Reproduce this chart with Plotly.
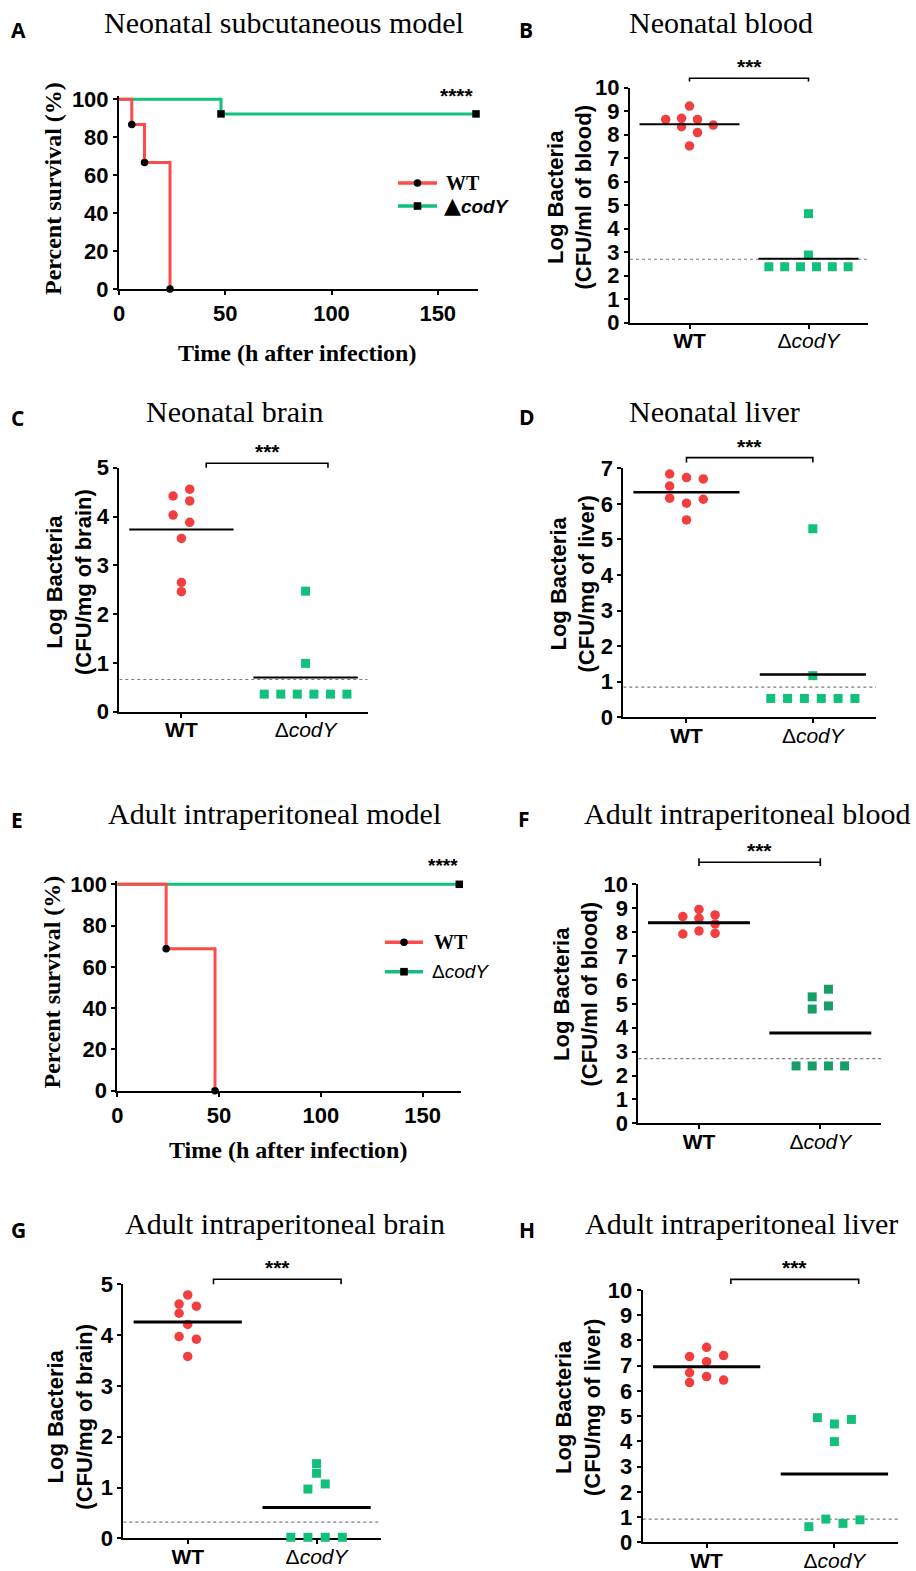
import numpy as np
import plotly.graph_objects as go

W, H = 916, 1571
SANS = "Liberation Sans, Arial, sans-serif"
SERIF = "Liberation Serif, Times New Roman, serif"
LBL = "Open Sans, sans-serif"

RED = "#F23E3E"
GREEN = "#12BF7B"
GREEN_DARK = "#179E66"
KM_RED = "#FF4A4A"
KM_GREEN = "#12BF7B"

CATS = ["<b>WT</b>", "Δ<i>codY</i>"]

# ---- survival curves (time in h, % surviving) ----
A_wt_time = [0, 6, 12, 24]
A_wt_surv = [100, 86.7, 66.7, 0]
A_cod_time = [0, 48, 168]
A_cod_surv = [100, 92.3, 92.3]

E_wt_time = [0, 24, 48]
E_wt_surv = [100, 68.8, 0]
E_cod_time = [0, 168]
E_cod_surv = [100, 100]

# ---- bacterial loads (log CFU) and horizontal spread within each column ----
B_wt = [9.22, 8.65, 8.70, 8.65, 8.34, 8.09, 8.41, 7.52]
B_wt_dx = [0, -0.2, -0.067, 0.067, -0.067, 0.067, 0.2, 0]
B_cod = [4.64, 2.88, 2.38, 2.38, 2.38, 2.38, 2.38, 2.38]
B_cod_dx = [0, 0, -0.333, -0.2, -0.067, 0.067, 0.2, 0.333]
B_lod = 2.70

C_wt = [4.42, 4.56, 4.32, 4.03, 3.88, 3.55, 2.65, 2.46]
C_wt_dx = [-0.067, 0.067, 0.067, -0.067, 0.067, 0, 0, 0]
C_cod = [2.47, 0.99, 0.36, 0.36, 0.36, 0.36, 0.36, 0.36]
C_cod_dx = [0, 0, -0.333, -0.2, -0.067, 0.067, 0.2, 0.333]
C_lod = 0.66

D_wt = [6.84, 6.74, 6.70, 6.50, 6.16, 6.13, 6.02, 5.55]
D_wt_dx = [-0.133, 0, 0.133, -0.133, -0.133, 0.133, 0, 0]
D_cod = [5.30, 1.17, 0.53, 0.53, 0.53, 0.53, 0.53, 0.53]
D_cod_dx = [0, 0, -0.333, -0.2, -0.067, 0.067, 0.2, 0.333]
D_lod = 0.85

F_wt = [8.95, 8.65, 8.72, 8.58, 8.34, 8.05, 7.92, 7.95]
F_wt_dx = [0, -0.133, 0.133, 0, 0.133, 0, -0.133, 0.133]
F_cod = [5.61, 5.29, 4.91, 4.78, 2.40, 2.40, 2.40, 2.40]
F_cod_dx = [0.067, -0.067, 0.067, -0.067, -0.2, -0.067, 0.067, 0.2]
F_lod = 2.71

G_wt = [4.79, 4.61, 4.57, 4.43, 4.21, 3.97, 3.92, 3.58]
G_wt_dx = [0, -0.067, 0.067, -0.067, 0, -0.067, 0.067, 0]
G_cod = [1.47, 1.28, 1.07, 0.97, 0.02, 0.02, 0.02, 0.02]
G_cod_dx = [0, 0, 0.067, -0.067, -0.2, -0.067, 0.067, 0.2]
G_lod = 0.32

H_wt = [7.73, 7.36, 7.40, 7.16, 6.72, 6.57, 6.43, 6.33]
H_wt_dx = [0, -0.133, 0.133, 0, -0.133, 0, 0.133, -0.133]
H_cod = [4.94, 4.87, 4.69, 3.99, 0.62, 0.92, 0.75, 0.89]
H_cod_dx = [-0.133, 0.133, 0, 0, -0.2, -0.067, 0.067, 0.2]
H_lod = 0.92


def px(x):
    return x / W


def py(y):
    return 1 - y / H


def dom(v, rng):
    return (v - rng[0]) / (rng[1] - rng[0])


def axis_style(size=22, weight="bold"):
    return dict(showgrid=False, zeroline=False, showline=True, linecolor="black",
                linewidth=2, ticks="outside", tickcolor="black", tickwidth=2,
                ticklen=4, fixedrange=True, automargin=False,
                tickfont=dict(family=SANS, size=size, color="black", weight=weight))


fig = go.Figure()
layout = dict(template="none", width=W, height=H, margin=dict(l=0, r=0, t=0, b=0, pad=0, autoexpand=False),
              paper_bgcolor="white", plot_bgcolor="white", showlegend=False)
shapes, annotations = [], []


def ref(i):
    return ("x", "y") if i == 1 else (f"x{i}", f"y{i}")


def axname(i):
    return ("xaxis", "yaxis") if i == 1 else (f"xaxis{i}", f"yaxis{i}")


# ---------------- survival panels ----------------
def survival_panel(i, xpx, ybot, ytop, wt_t, wt_s, cod_t, cod_s, xmax):
    xr, yr = ref(i)
    xa, ya = axname(i)
    yrange = [0, 101.5]
    top_px = ybot - (ybot - ytop) * yrange[1] / 100
    layout[xa] = dict(domain=[px(xpx[0]), px(xpx[1])], range=[0, xmax], anchor=yr,
                      tickvals=[0, 50, 100, 150], **axis_style(22))
    layout[ya] = dict(domain=[py(ybot), py(top_px)], range=yrange, anchor=xr,
                      tickvals=[0, 20, 40, 60, 80, 100], **axis_style(22))
    for t, s, col, sym in ((cod_t, cod_s, KM_GREEN, "square"), (wt_t, wt_s, KM_RED, "circle")):
        fig.add_trace(go.Scatter(x=t, y=s, mode="lines", xaxis=xr, yaxis=yr,
                                 line=dict(color=col, width=3, shape="hv")))
        fig.add_trace(go.Scatter(x=t[1:], y=s[1:], mode="markers", xaxis=xr, yaxis=yr,
                                 cliponaxis=False,
                                 marker=dict(symbol=sym, size=7.5, color="black")))


survival_panel(1, (119, 477.7), 289, 99.3, A_wt_time, A_wt_surv, A_cod_time, A_cod_surv, 168.8)
survival_panel(5, (117.3, 460.7), 1090.7, 884.3, E_wt_time, E_wt_surv, E_cod_time, E_cod_surv, 168.7)


def legend(x0, x1, y_wt, y_cod, xtext, cod_label):
    for yy, col, kind in ((y_wt, KM_RED, "circle"), (y_cod, KM_GREEN, "rect")):
        shapes.append(dict(type="line", xref="paper", yref="paper", x0=px(x0), x1=px(x1),
                           y0=py(yy), y1=py(yy), line=dict(color=col, width=3.5)))
        cx = (x0 + x1) / 2
        r = 3.8
        shapes.append(dict(type=kind, xref="paper", yref="paper", x0=px(cx - r), x1=px(cx + r),
                           y0=py(yy + r), y1=py(yy - r), fillcolor="black",
                           line=dict(color="black", width=0)))
    annotations.append(dict(xref="paper", yref="paper", x=px(xtext), y=py(y_wt),
                            xanchor="left", yanchor="middle", showarrow=False,
                            text="<b>WT</b>", font=dict(family=SERIF, size=20, color="black")))
    annotations.append(dict(xref="paper", yref="paper", x=px(xtext - 2), y=py(y_cod),
                            xanchor="left", yanchor="middle", showarrow=False,
                            text=cod_label, font=dict(family=SANS, size=19, color="black")))


legend(398, 437, 183, 206, 444,
       "<span style='font-family:DejaVu Sans;font-size:22px'>▲</span><b><i>codY</i></b>")
legend(385, 423, 942.3, 971.7, 432, "Δ<i>codY</i>")

for (x, y, s) in ((457, 96, 21), (442.7, 866, 19)):
    annotations.append(dict(xref="paper", yref="paper", x=px(x), y=py(y), xanchor="center",
                            yanchor="middle", showarrow=False, text="<b>****</b>",
                            font=dict(family=SANS, size=s, color="black")))

for (x, y) in ((297, 353), (288, 1150)):
    annotations.append(dict(xref="paper", yref="paper", x=px(x), y=py(y), xanchor="center",
                            yanchor="middle", showarrow=False, text="<b>Time (h after infection)</b>",
                            font=dict(family=SERIF, size=24, color="black")))
for (x, y) in ((53, 189), (52, 982.5)):
    annotations.append(dict(xref="paper", yref="paper", x=px(x), y=py(y), xanchor="center",
                            yanchor="middle", showarrow=False, textangle=-90,
                            text="<b>Percent survival (%)</b>",
                            font=dict(family=SERIF, size=24, color="black")))


# ---------------- scatter panels ----------------
def dot_panel(i, xpx, ybot, ytop, ymax, wt, wt_dx, cod, cod_dx, lod, green, mean_w,
              bracket, ytitle, ytitle_xy, below=False):
    xr, yr = ref(i)
    xa, ya = axname(i)
    xrange = [-0.5, 1.5]
    yrange = [0, ymax]
    layout[xa] = dict(domain=[px(xpx[0]), px(xpx[1])], range=xrange, anchor=yr,
                      tickvals=[0, 1], ticktext=CATS, ticklabelstandoff=-6,
                      **axis_style(21, "normal"))
    layout[ya] = dict(domain=[py(ybot), py(ytop)], range=yrange, anchor=xr,
                      tick0=0, dtick=1, **axis_style(22))
    if below:
        layout[xa]["layer"] = "below traces"
    # detection limit
    fig.add_trace(go.Scatter(x=xrange, y=[lod, lod], mode="lines", xaxis=xr, yaxis=yr,
                             line=dict(color="#7a7a7a", width=1.2, dash="dot")))
    for c, vals, dx, col, sym, size in ((0, wt, wt_dx, RED, "circle", 9.5),
                                        (1, cod, cod_dx, green, "square", 9)):
        fig.add_trace(go.Scatter(x=[c + d for d in dx], y=vals, mode="markers",
                                 xaxis=xr, yaxis=yr, cliponaxis=False,
                                 marker=dict(symbol=sym, size=size, color=col,
                                             line=dict(width=0))))
        m = float(np.mean(vals))
        fig.add_trace(go.Scatter(x=[c - 0.42, c + 0.42], y=[m, m], mode="lines",
                                 xaxis=xr, yaxis=yr, line=dict(color="black", width=mean_w)))
    # significance bracket
    kind, bx0, bx1, ybar, ytick, ycap = bracket
    X0, X1 = dom(bx0, xrange), dom(bx1, xrange)
    Yb, Yt = dom(ybar, yrange), dom(ytick, yrange)
    if kind == "cap":
        Yc = dom(ycap, yrange)
        path = (f"M{X0},{Yt} L{X0},{Yc} M{X0},{Yb} L{X1},{Yb} "
                f"M{X1},{Yt} L{X1},{Yc}")
    else:
        path = f"M{X0},{Yt} L{X0},{Yb} L{X1},{Yb} L{X1},{Yt}"
    shapes.append(dict(type="path", xref=f"{xr} domain", yref=f"{yr} domain", path=path,
                       line=dict(color="black", width=1.6)))
    annotations.append(dict(xref=f"{xr} domain", yref=f"{yr} domain", x=(X0 + X1) / 2, y=Yb,
                            xanchor="center", yanchor="bottom", yshift=-2, showarrow=False,
                            text="<b>***</b>", font=dict(family=SANS, size=21, color="black")))
    annotations.append(dict(xref="paper", yref="paper", x=px(ytitle_xy[0]), y=py(ytitle_xy[1]),
                            xanchor="center", yanchor="middle", showarrow=False, textangle=-90,
                            text=f"<b>Log Bacteria<br>{ytitle}</b>",
                            font=dict(family=SANS, size=22, color="black")))


dot_panel(2, (630, 868), 322.7, 87.7, 10, B_wt, B_wt_dx, B_cod, B_cod_dx, B_lod, GREEN, 2,
          ("down", 0, 1, 10.4, 10.26, None), "(CFU/ml of blood)", (570, 197.5))
dot_panel(3, (119.3, 367.7), 711.7, 467.7, 5, C_wt, C_wt_dx, C_cod, C_cod_dx, C_lod, GREEN, 2,
          ("down", 0.2, 1.18, 5.09, 5.0, None), "(CFU/mg of brain)", (69, 582))
dot_panel(4, (623.3, 876), 717.3, 468.3, 7, D_wt, D_wt_dx, D_cod, D_cod_dx, D_lod, GREEN, 2.5,
          ("down", 0, 1, 7.30, 7.16, None), "(CFU/mg of liver)", (572.5, 584))
dot_panel(6, (638.3, 881), 1123.3, 884.3, 10, F_wt, F_wt_dx, F_cod, F_cod_dx, F_lod, GREEN_DARK, 3,
          ("cap", 0, 1, 10.92, 11.09, 10.77), "(CFU/ml of blood)", (575.5, 994))
dot_panel(7, (123.3, 381), 1538.3, 1284.3, 5, G_wt, G_wt_dx, G_cod, G_cod_dx, G_lod, GREEN, 3,
          ("down", 0.2, 1.19, 5.10, 5.0, None), "(CFU/mg of brain)", (70, 1416.7), below=True)
dot_panel(8, (642.7, 898.3), 1542.3, 1290, 10, H_wt, H_wt_dx, H_cod, H_cod_dx, H_lod, GREEN, 3,
          ("down", 0.19, 1.19, 10.42, 10.24, None), "(CFU/mg of liver)", (578, 1408))

# ---------------- panel titles and letters ----------------
titles = [("Neonatal subcutaneous model", 284, 23), ("Neonatal blood", 721, 23),
          ("Neonatal brain", 234, 412), ("Neonatal liver", 714, 412),
          ("Adult intraperitoneal model", 274, 813), ("Adult intraperitoneal blood", 747.5, 813),
          ("Adult intraperitoneal brain", 285, 1223), ("Adult intraperitoneal liver", 741, 1223)]
for text, x, y in titles:
    annotations.append(dict(xref="paper", yref="paper", x=px(x), y=py(y), xanchor="center",
                            yanchor="middle", showarrow=False, text=text,
                            font=dict(family=SERIF, size=30, color="black")))

letters = [("A", 18, 30), ("B", 526, 30), ("C", 17, 418), ("D", 527, 417),
           ("E", 17, 820), ("F", 524, 819), ("G", 18, 1230), ("H", 527, 1230)]
for text, x, y in letters:
    annotations.append(dict(xref="paper", yref="paper", x=px(x), y=py(y), xanchor="center",
                            yanchor="middle", showarrow=False, text=f"<b>{text}</b>",
                            font=dict(family=LBL, size=21, color="black")))

layout["shapes"] = shapes
layout["annotations"] = annotations
fig.update_layout(**layout)
fig.write_html("out.html")
